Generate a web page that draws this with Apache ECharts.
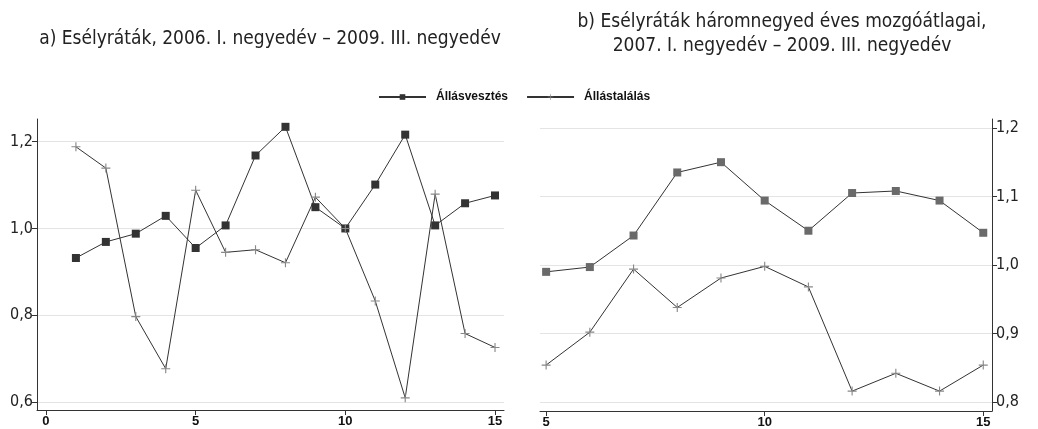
<!DOCTYPE html>
<html>
<head>
<meta charset="utf-8">
<script src="https://cdn.jsdelivr.net/npm/echarts@6/dist/echarts.min.js"></script>
<style>
  html, body { margin: 0; padding: 0; background: #fff; }
  #chart { width: 1038px; height: 429px; }
</style>
</head>
<body>
<div id="chart"></div>
<script>
// a) quarterly rates, x = 1..15
var xA = [1, 2, 3, 4, 5, 6, 7, 8, 9, 10, 11, 12, 13, 14, 15]
var lossA = [0.932, 0.969, 0.988, 1.029, 0.955, 1.007, 1.168, 1.234, 1.049, 1.000, 1.101, 1.216, 1.007, 1.058, 1.076]
var findA = [1.188, 1.139, 0.797, 0.677, 1.088, 0.945, 0.951, 0.921, 1.072, 1.000, 0.833, 0.610, 1.079, 0.758, 0.726]
// b) three-quarter moving averages, x = 5..15
var xB = [5, 6, 7, 8, 9, 10, 11, 12, 13, 14, 15]
var lossB = [0.990, 0.997, 1.043, 1.135, 1.150, 1.094, 1.050, 1.105, 1.108, 1.094, 1.047]
var findB = [0.854, 0.902, 0.994, 0.938, 0.981, 0.998, 0.968, 0.816, 0.842, 0.816, 0.854]
var ticksXA = [0, 5, 10, 15]
var ticksXB = [5, 10, 15]
var ticksYA = [0.6, 0.8, 1.0, 1.2]
var ticksYB = [0.8, 0.9, 1.0, 1.1, 1.2]

var pairs = function (xs, ys) {
  return xs.map(function (x, i) { return [x, ys[i]] })
}
var plus = 'path://M3.5,0h1v8h-1z M0,3.5h8v1h-8z'
var comma = function (v) { return v.toFixed(1).replace('.', ',') }

var chart = echarts.init(document.getElementById('chart'))
var narrow = '"Liberation Sans Narrow", "DejaVu Sans Condensed", sans-serif'

var xAxisBase = function (grid, min, max, ticks) {
  return {
    type: 'value',
    gridIndex: grid,
    min: min,
    max: max,
    axisLine: { onZero: false, lineStyle: { color: '#333', width: 1 } },
    axisTick: { show: true, length: 5, customValues: ticks, lineStyle: { color: '#333' } },
    axisLabel: {
      customValues: ticks,
      margin: 5,
      color: '#111',
      fontSize: 13,
      fontWeight: 'bold',
      fontFamily: 'Arial, "Liberation Sans", sans-serif'
    },
    splitLine: { show: false }
  }
}
var yAxisBase = function (grid, min, max, ticks, pos) {
  return {
    type: 'value',
    gridIndex: grid,
    position: pos,
    min: min,
    max: max,
    axisLine: { show: true, onZero: false, lineStyle: { color: '#333', width: 1 } },
    axisTick: { show: true, length: 5, customValues: ticks, lineStyle: { color: '#333' } },
    axisLabel: {
      customValues: ticks,
      margin: 4,
      color: '#222',
      fontSize: 16,
      fontFamily: narrow,
      formatter: comma
    },
    splitLine: { show: true, lineStyle: { color: '#e4e4e4', width: 1 } }
  }
}

var option = {
  backgroundColor: '#fff',
  animation: false,
  title: [
    {
      text: 'a) Esélyráták, 2006. I. negyedév – 2009. III. negyedév',
      left: 265,
      top: 25,
      textAlign: 'center',
      textStyle: { fontFamily: narrow, fontSize: 19, fontWeight: 'normal', color: '#222' }
    },
    {
      text: 'b) Esélyráták háromnegyed éves mozgóátlagai,\n2007. I. negyedév – 2009. III. negyedév',
      left: 777,
      top: 5,
      textAlign: 'center',
      textStyle: { fontFamily: narrow, fontSize: 19, fontWeight: 'normal', color: '#222', lineHeight: 24 }
    }
  ],
  legend: {
    data: ['Állásvesztés', 'Állástalálás'],
    left: 373,
    top: 86,
    itemWidth: 47,
    itemHeight: 7,
    itemGap: 18,
    textStyle: { fontSize: 12, fontWeight: 'bold', color: '#111', fontFamily: 'Arial, "Liberation Sans", sans-serif', padding: [0, 0, 0, 5] }
  },
  grid: [
    { left: 37, top: 119, width: 467, height: 291 },
    { left: 540, top: 119, width: 452, height: 292 }
  ],
  xAxis: [
    xAxisBase(0, -0.3, 15.3, ticksXA),
    xAxisBase(1, 4.86, 15.2, ticksXB)
  ],
  yAxis: [
    yAxisBase(0, 0.582, 1.252, ticksYA, 'left'),
    yAxisBase(1, 0.787, 1.213, ticksYB, 'right')
  ],
  series: [
    {
      name: 'Állásvesztés', type: 'line', xAxisIndex: 0, yAxisIndex: 0,
      data: pairs(xA, lossA), symbol: 'rect', symbolSize: 8,
      lineStyle: { color: '#333', width: 1 }, itemStyle: { color: '#333' }
    },
    {
      name: 'Állástalálás', type: 'line', xAxisIndex: 0, yAxisIndex: 0,
      data: pairs(xA, findA), symbol: plus, symbolSize: 9,
      lineStyle: { color: '#333', width: 1 }, itemStyle: { color: '#888' }
    },
    {
      name: 'Állásvesztés', type: 'line', xAxisIndex: 1, yAxisIndex: 1,
      data: pairs(xB, lossB), symbol: 'rect', symbolSize: 8,
      lineStyle: { color: '#333', width: 1 }, itemStyle: { color: '#6a6a6a' }
    },
    {
      name: 'Állástalálás', type: 'line', xAxisIndex: 1, yAxisIndex: 1,
      data: pairs(xB, findB), symbol: plus, symbolSize: 9,
      lineStyle: { color: '#333', width: 1 }, itemStyle: { color: '#888' }
    }
  ]
}
chart.setOption(option)
</script>
</body>
</html>
